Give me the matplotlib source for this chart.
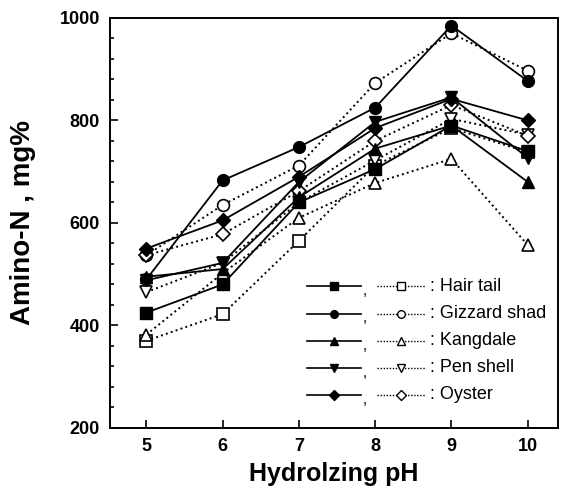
import numpy as np
import matplotlib.pyplot as plt
from matplotlib.ticker import MultipleLocator
from matplotlib.lines import Line2D

plt.rcParams['font.family'] = ['Liberation Sans', 'DejaVu Sans']

ph = [5, 6, 7, 8, 9, 10]
species = ['Hair tail', 'Gizzard shad', 'Kangdale', 'Pen shell', 'Oyster']
markers = ['s', 'o', '^', 'v', 'D']

# filled symbols / solid lines
solid = {
    'Hair tail':    [425, 480, 640, 705, 790, 740],
    'Gizzard shad': [490, 683, 748, 825, 985, 877],
    'Kangdale':     [495, 510, 650, 745, 790, 680],
    'Pen shell':    [488, 522, 680, 797, 845, 727],
    'Oyster':       [550, 605, 690, 785, 842, 800],
}
# open symbols / dotted lines
dotted = {
    'Hair tail':    [370, 422, 565, 712, 785, 738],
    'Gizzard shad': [537, 635, 712, 873, 970, 897],
    'Kangdale':     [382, 502, 610, 678, 725, 557],
    'Pen shell':    [465, 522, 640, 722, 803, 772],
    'Oyster':       [537, 578, 662, 760, 830, 770],
}

fig = plt.figure(figsize=(5.69, 4.97), dpi=100)
ax = fig.add_axes([0.193, 0.139, 0.788, 0.825])

for name, m in zip(species, markers):
    ms = 7.5 if m == 'D' else 8.5
    ax.plot(ph, dotted[name], ls=':', lw=1.4, color='black', marker=m,
            ms=ms, mfc='white', mec='black', mew=1.2, zorder=2)
    ax.plot(ph, solid[name], ls='-', lw=1.3, color='black', marker=m,
            ms=ms, mfc='black', mec='black', zorder=3)

ax.set_xlim(4.52, 10.4)
ax.set_ylim(200, 1000)
ax.set_xticks(ph)
ax.yaxis.set_major_locator(MultipleLocator(200))
ax.yaxis.set_minor_locator(MultipleLocator(40))
ax.tick_params(which='both', direction='in', width=1.2)
ax.tick_params(which='major', length=6, labelsize=13, pad=7)
ax.tick_params(which='minor', length=3)
for lab in ax.get_xticklabels() + ax.get_yticklabels():
    lab.set_fontweight('bold')
for s in ax.spines.values():
    s.set_linewidth(1.4)

ax.set_xlabel('Hydrolzing pH', fontsize=18, fontweight='bold', labelpad=5)
ax.set_ylabel('Amino-N , mg%', fontsize=20, fontweight='bold')
ax.yaxis.set_label_coords(-0.165, 0.5)

# custom legend: filled/solid, open/dotted : name
tr = ax.transAxes
y0, dy = 0.345, 0.066
for i, (name, m) in enumerate(zip(species, markers)):
    y = y0 - i * dy
    ax.add_line(Line2D([0.44, 0.56], [y, y], transform=tr, color='black',
                       lw=1.2, marker=None))
    ax.add_line(Line2D([0.50], [y], transform=tr, color='black', marker=m,
                       ms=5.5, mfc='black', mec='black', ls='none'))
    ax.text(0.563, y - 0.012, ',', transform=tr, fontsize=11, va='center')
    ax.add_line(Line2D([0.595, 0.705], [y, y], transform=tr, color='black',
                       lw=1.0, ls=(0, (1, 1.2))))
    ax.add_line(Line2D([0.65], [y], transform=tr, color='black', marker=m,
                       ms=5.5, mfc='white', mec='black', mew=1.0, ls='none'))
    ax.text(0.715, y, ': ' + name, transform=tr, fontsize=13, va='center')

fig.savefig('out.png', dpi=100)
